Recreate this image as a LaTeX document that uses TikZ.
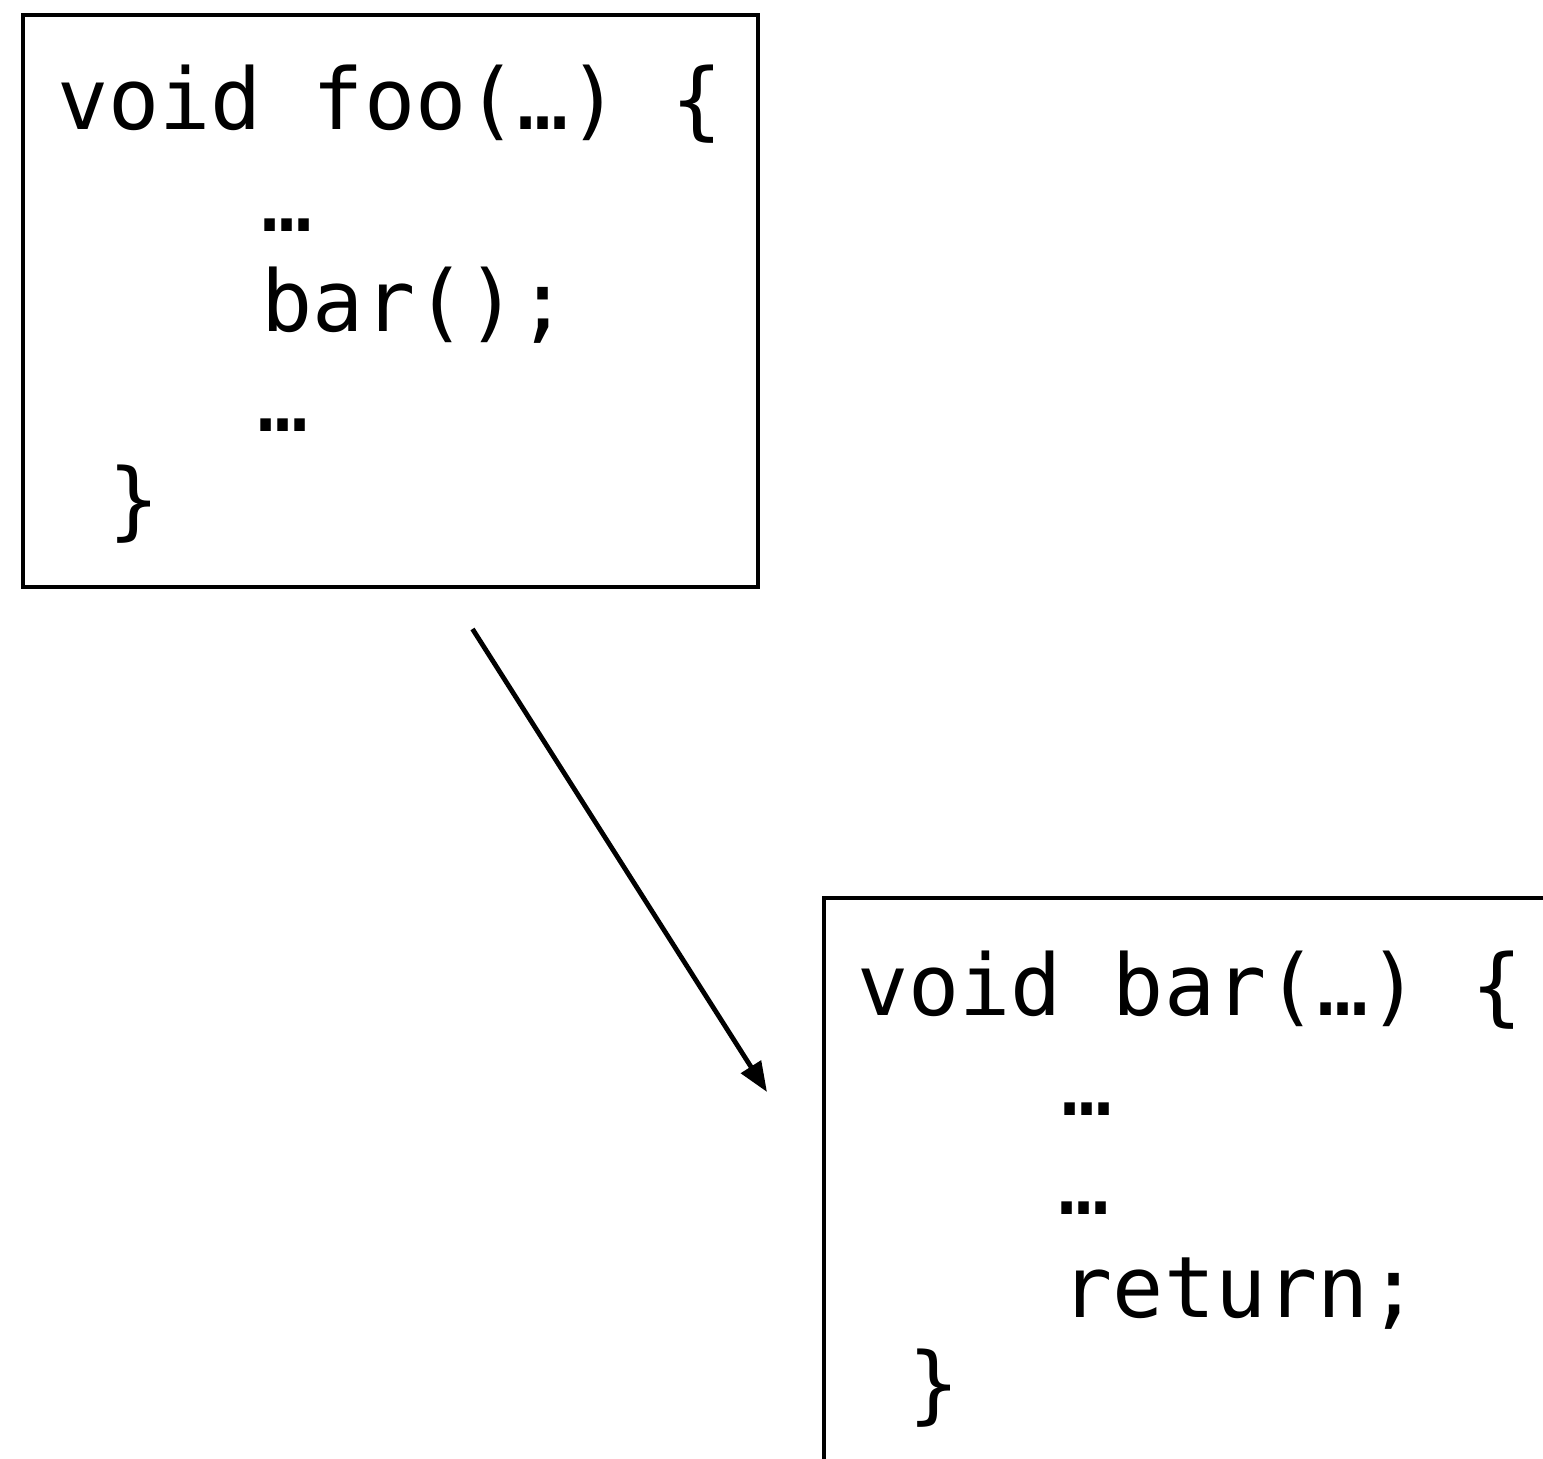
\documentclass[tikz,border=0pt]{standalone}
\usepackage{fontspec}
\newfontfamily\codefont{DejaVu Sans Mono}
\usetikzlibrary{arrows.meta,calc}
\begin{document}
\begin{tikzpicture}[x=0.5pt,y=-0.5pt,
  codebox/.style={draw, line width=2.2pt, rectangle, anchor=north west,
    inner sep=0pt, outer sep=0pt},
  codeline/.style={anchor=base west, inner sep=0pt, outer sep=0pt,
    font=\codefont\fontsize{42.5pt}{50pt}\selectfont},
  call/.style={line width=2.4pt, -{Triangle[length=15pt,width=11.5pt]}}]
\useasboundingbox (0,0) rectangle (1543,1459);
\clip (0,0) rectangle (1543,1459);

% caller
\node[codebox, minimum width=367.5pt, minimum height=286pt] (foo) at (23,15) {};
\node[codeline] (foo1) at (57,130) {void foo(…) \{};
\node[codeline] (foo2) at (57,232) {\phantom{xxxx}…};
\node[codeline] (foo3) at (57,332) {\phantom{xxxx}bar();};
\node[codeline] (foo4) at (53,432) {\phantom{xxxx}…};
\node[codeline] (foo5) at (57,530) {\phantom{x}\}};

% callee (runs past the page edge)
\node[codebox, minimum width=400pt, minimum height=350pt] (bar) at (824,898) {};
\node[codeline] (bar1) at (857,1015) {void bar(…) \{};
\node[codeline] (bar2) at (857,1115) {\phantom{xxxx}…};
\node[codeline] (bar3) at (854,1214) {\phantom{xxxx}…};
\node[codeline] (bar4) at (857,1317) {\phantom{xxxx}return;};
\node[codeline] (bar5) at (857,1413) {\phantom{x}\}};

% call edge
\coordinate (callStart) at ($(foo.south)+(82,42)$);
\coordinate (callEnd) at ($(bar.north west)+(-57,194)$);
\draw[call] (callStart) -- (callEnd);
\end{tikzpicture}
\end{document}
